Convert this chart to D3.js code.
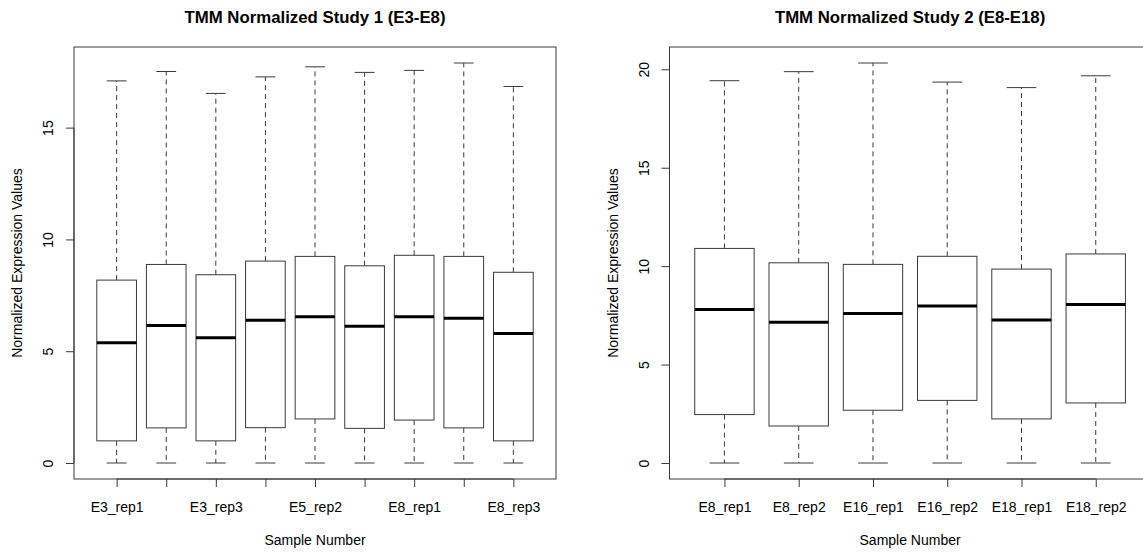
<!DOCTYPE html>
<html>
<head>
<meta charset="utf-8">
<script src="https://cdn.jsdelivr.net/npm/d3@7"></script>
<style>
  html, body { margin: 0; padding: 0; background: #fff; }
  svg { display: block; }
  text { font-family: "Liberation Sans", Arial, sans-serif; fill: #000; }
</style>
</head>
<body>
<script>
// ---------- Data ----------
const study1Title = "TMM Normalized Study 1 (E3-E8)";
const study1Samples = ["E3_rep1","E3_rep2","E3_rep3","E5_rep1","E5_rep2","E5_rep3","E8_rep1","E8_rep2","E8_rep3"];
const study1TickLabels = ["E3_rep1","","E3_rep3","","E5_rep2","","E8_rep1","","E8_rep3"];
const study1Min    = [0, 0, 0, 0, 0, 0, 0, 0, 0];
const study1Q1     = [0.99, 1.57, 0.99, 1.58, 1.97, 1.55, 1.92, 1.57, 0.99];
const study1Median = [5.38, 6.15, 5.60, 6.39, 6.54, 6.12, 6.54, 6.47, 5.79];
const study1Q3     = [8.18, 8.88, 8.42, 9.03, 9.24, 8.82, 9.29, 9.24, 8.53];
const study1Max    = [17.09, 17.51, 16.53, 17.27, 17.72, 17.47, 17.56, 17.89, 16.84];
const study1YTicks = [0, 5, 10, 15];

const study2Title = "TMM Normalized Study 2 (E8-E18)";
const study2Samples = ["E8_rep1","E8_rep2","E16_rep1","E16_rep2","E18_rep1","E18_rep2"];
const study2TickLabels = ["E8_rep1","E8_rep2","E16_rep1","E16_rep2","E18_rep1","E18_rep2"];
const study2Min    = [0, 0, 0, 0, 0, 0];
const study2Q1     = [2.46, 1.88, 2.68, 3.18, 2.24, 3.05];
const study2Median = [7.80, 7.15, 7.60, 7.98, 7.27, 8.05];
const study2Q3     = [10.90, 10.17, 10.09, 10.50, 9.85, 10.62];
const study2Max    = [19.42, 19.88, 20.32, 19.35, 19.07, 19.67];
const study2YTicks = [0, 5, 10, 15, 20];

const yLabel = "Normalized Expression Values";
const xLabel = "Sample Number";

// ---------- Drawing ----------
const W = 1143, H = 552;
const svg = d3.select("body").append("svg").attr("width", W).attr("height", H);

function panel(cfg) {
  const n = cfg.samples.length;
  const xExt = 0.04 * n;
  const x = d3.scaleLinear()
    .domain([0.5 - xExt, n + 0.5 + xExt])
    .range([cfg.left, cfg.right]);
  const yMax = d3.max(cfg.max), yMin = d3.min(cfg.min);
  const yExt = 0.04 * (yMax - yMin);
  const y = d3.scaleLinear()
    .domain([yMin - yExt, yMax + yExt])
    .range([cfg.bottom, cfg.top]);

  const g = svg.append("g");
  const stroke = "#3a3a3a";
  const unit = x(2) - x(1);
  const boxW = 0.8 * unit;
  const capW = 0.4 * unit;

  const data = cfg.samples.map((s, i) => ({
    s, pos: i + 1, min: cfg.min[i], q1: cfg.q1[i], med: cfg.median[i], q3: cfg.q3[i], max: cfg.max[i]
  }));

  const b = g.selectAll("g.box").data(data).join("g").attr("class", "box");
  b.append("line")
    .attr("x1", d => x(d.pos)).attr("x2", d => x(d.pos))
    .attr("y1", d => y(d.q3)).attr("y2", d => y(d.max))
    .attr("stroke", stroke).attr("stroke-width", 1).attr("stroke-dasharray", "5,4");
  b.append("line")
    .attr("x1", d => x(d.pos)).attr("x2", d => x(d.pos))
    .attr("y1", d => y(d.q1)).attr("y2", d => y(d.min))
    .attr("stroke", stroke).attr("stroke-width", 1).attr("stroke-dasharray", "5,4");
  b.append("line")
    .attr("x1", d => x(d.pos) - capW / 2).attr("x2", d => x(d.pos) + capW / 2)
    .attr("y1", d => y(d.max)).attr("y2", d => y(d.max))
    .attr("stroke", stroke).attr("stroke-width", 1);
  b.append("line")
    .attr("x1", d => x(d.pos) - capW / 2).attr("x2", d => x(d.pos) + capW / 2)
    .attr("y1", d => y(d.min)).attr("y2", d => y(d.min))
    .attr("stroke", stroke).attr("stroke-width", 1);
  b.append("rect")
    .attr("x", d => x(d.pos) - boxW / 2).attr("width", boxW)
    .attr("y", d => y(d.q3)).attr("height", d => y(d.q1) - y(d.q3))
    .attr("fill", "#fff").attr("stroke", stroke).attr("stroke-width", 1);
  b.append("line")
    .attr("x1", d => x(d.pos) - boxW / 2).attr("x2", d => x(d.pos) + boxW / 2)
    .attr("y1", d => y(d.med)).attr("y2", d => y(d.med))
    .attr("stroke", "#000").attr("stroke-width", 3);

  g.append("rect")
    .attr("x", cfg.left).attr("y", cfg.top)
    .attr("width", cfg.right - cfg.left).attr("height", cfg.bottom - cfg.top)
    .attr("fill", "none").attr("stroke", stroke).attr("stroke-width", 1);

  // y axis
  const yAxis = d3.axisLeft(y).tickValues(cfg.yTicks).tickSize(8).tickPadding(0).tickFormat(d3.format("d"));
  const ya = g.append("g").attr("transform", `translate(${cfg.left},0)`).call(yAxis);
  ya.select(".domain").attr("d", `M0,${y(cfg.yTicks[0])}V${y(cfg.yTicks[cfg.yTicks.length-1])}`).attr("stroke", stroke);
  ya.selectAll(".tick line").attr("stroke", stroke);
  ya.selectAll(".tick text")
    .attr("x", null).attr("dy", null)
    .attr("text-anchor", "middle")
    .attr("dominant-baseline", "central")
    .attr("transform", "translate(-26,0) rotate(-90)")
    .style("font-size", "14px");

  // x axis
  const xAxis = d3.axisBottom(x).tickValues(d3.range(1, n + 1)).tickSize(8).tickPadding(0)
    .tickFormat((d, i) => cfg.tickLabels[i]);
  const xa = g.append("g").attr("transform", `translate(0,${cfg.bottom})`).call(xAxis);
  xa.select(".domain").attr("d", `M${x(1)},0H${x(n)}`).attr("stroke", stroke);
  xa.selectAll(".tick line").attr("stroke", stroke);
  xa.selectAll(".tick text").attr("y", 27.5).attr("dy", null)
    .attr("dominant-baseline", "central").style("font-size", "14px");

  const cx = (cfg.left + cfg.right) / 2;
  g.append("text").attr("x", cx).attr("y", 23).attr("text-anchor", "middle")
    .style("font-size", "16.8px").style("font-weight", "bold").text(cfg.title);
  g.append("text").attr("x", cx).attr("y", 540).attr("text-anchor", "middle")
    .attr("dominant-baseline", "central").style("font-size", "14px").text(xLabel);
  const cy = (cfg.top + cfg.bottom) / 2;
  g.append("text").attr("transform", `translate(${cfg.left - 57},${cy}) rotate(-90)`)
    .attr("text-anchor", "middle").attr("dominant-baseline", "central")
    .style("font-size", "14px").text(yLabel);
}

panel({
  title: study1Title, samples: study1Samples, tickLabels: study1TickLabels,
  min: study1Min, q1: study1Q1, median: study1Median, q3: study1Q3, max: study1Max,
  yTicks: study1YTicks, left: 74, right: 556, top: 47, bottom: 479
});
panel({
  title: study2Title, samples: study2Samples, tickLabels: study2TickLabels,
  min: study2Min, q1: study2Q1, median: study2Median, q3: study2Q3, max: study2Max,
  yTicks: study2YTicks, left: 669.5, right: 1150.7, top: 47, bottom: 479
});
</script>
</body>
</html>
